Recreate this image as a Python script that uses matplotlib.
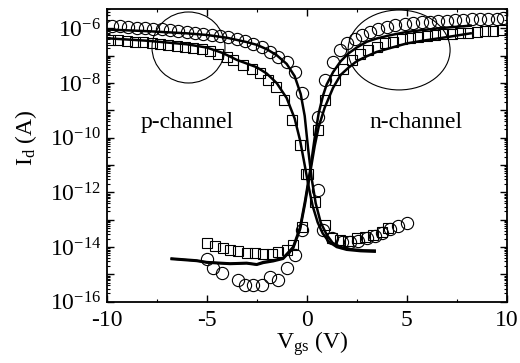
import matplotlib
matplotlib.use('Agg')
import matplotlib.pyplot as plt
from matplotlib.patches import Ellipse
from matplotlib.ticker import FixedLocator, LogLocator, FuncFormatter, MultipleLocator, NullFormatter
import numpy as np

plt.rcParams['font.family'] = ['Liberation Serif', 'DejaVu Serif']
plt.rcParams['mathtext.fontset'] = 'custom'
plt.rcParams['mathtext.rm'] = 'Liberation Serif'
plt.rcParams['mathtext.it'] = 'Liberation Serif:italic'
plt.rcParams['xtick.top'] = True
plt.rcParams['ytick.right'] = True
plt.rcParams['xtick.direction'] = 'in'
plt.rcParams['ytick.direction'] = 'in'

# p-channel, circles (V, log10 I)
p_circ_v = [-9.75, -9.33, -8.92, -8.5, -8.08, -7.67, -7.25, -6.83, -6.42, -6.0, -5.58, -5.17,
            -4.75, -4.33, -3.92, -3.5, -3.08, -2.67, -2.25, -1.83, -1.42, -1.0, -0.58, -0.25,
            0.57, 0.82, 1.27, 1.77, 2.17, 2.57, 3.02, 3.42, 3.77, 4.17, 4.57, 5.02]
p_circ_logi = [-5.92, -5.93, -5.95, -5.97, -5.99, -6.01, -6.04, -6.06, -6.09, -6.12, -6.15, -6.19,
               -6.23, -6.28, -6.32, -6.39, -6.47, -6.56, -6.68, -6.86, -7.04, -7.22, -7.59, -8.38,
               -11.92, -13.39, -13.68, -13.83, -13.83, -13.79, -13.68, -13.61, -13.5, -13.35, -13.24, -13.13]

# p-channel, squares
p_sq_v = [-9.83, -9.42, -9.0, -8.58, -8.17, -7.75, -7.33, -6.92, -6.5, -6.08, -5.67, -5.25,
          -4.83, -4.42, -4.0, -3.67, -3.17, -2.75, -2.33, -1.92, -1.53, -1.12, -0.75, -0.33,
          -0.03, 0.42, 0.92, 1.27, 1.67, 2.07, 2.52, 2.92, 3.32, 3.77, 4.07]
p_sq_logi = [-6.42, -6.44, -6.46, -6.48, -6.5, -6.53, -6.56, -6.6, -6.63, -6.67, -6.71, -6.76,
             -6.82, -6.92, -7.05, -7.16, -7.34, -7.5, -7.65, -7.89, -8.14, -8.63, -9.36, -10.27,
             -11.31, -12.35, -13.2, -13.68, -13.76, -13.79, -13.68, -13.65, -13.57, -13.46, -13.31]

# n-channel, circles
n_circ_v = [-5.0, -4.67, -4.25, -3.42, -3.08, -2.67, -2.25, -1.83, -1.42, -1.0, -0.58, -0.25,
            0.58, 0.92, 1.33, 1.67, 2.0, 2.42, 2.75, 3.17, 3.58, 4.0, 4.42, 4.92,
            5.33, 5.75, 6.17, 6.58, 7.0, 7.42, 7.83, 8.25, 8.67, 9.08, 9.5, 9.83]
n_circ_logi = [-14.42, -14.77, -14.96, -15.22, -15.4, -15.4, -15.4, -15.11, -15.22, -14.78, -14.3, -13.39,
               -9.24, -7.89, -7.22, -6.79, -6.55, -6.37, -6.25, -6.12, -6.03, -5.94, -5.88, -5.84,
               -5.81, -5.78, -5.76, -5.74, -5.72, -5.7, -5.69, -5.67, -5.66, -5.65, -5.64, -5.63]

# n-channel, squares
n_sq_v = [-5.0, -4.58, -4.17, -3.83, -3.42, -3.0, -2.58, -2.17, -1.75, -1.42, -1.0, -0.67,
          -0.25, 0.07, 0.58, 0.92, 1.42, 1.83, 2.25, 2.67, 3.08, 3.5, 3.92, 4.33,
          4.75, 5.17, 5.58, 6.0, 6.42, 6.83, 7.25, 7.67, 8.08, 8.5, 8.92, 9.33, 9.75]
n_sq_logi = [-13.85, -13.97, -14.05, -14.12, -14.16, -14.22, -14.23, -14.27, -14.25, -14.2, -14.1, -13.94,
             -13.27, -11.31, -9.7, -8.63, -7.89, -7.47, -7.16, -6.92, -6.79, -6.67, -6.55, -6.49,
             -6.4, -6.35, -6.31, -6.28, -6.25, -6.22, -6.2, -6.17, -6.15, -6.13, -6.11, -6.09, -6.07]

# fitted curves
p_fit1_v = [-10, -8, -6, -5, -4, -3, -2.5, -2, -1.5, -1.0, -0.6, -0.3, -0.1, 0.07, 0.25, 0.45,
            0.7, 1.0, 1.3, 1.7, 2.2, 2.8, 3.4]
p_fit1_logi = [-6.04, -6.1, -6.18, -6.24, -6.34, -6.5, -6.6, -6.76, -6.98, -7.3, -7.75, -8.4, -9.2,
               -10.4, -11.5, -12.4, -13.1, -13.55, -13.85, -14.0, -14.08, -14.12, -14.13]
p_fit2_v = [-10, -8, -6, -5, -4.2, -3.5, -2.5, -2, -1.5, -1.0, -0.6, -0.33, -0.1, 0.1, 0.3, 0.55,
            0.8, 1.1, 1.5, 2.0, 2.7, 3.4]
p_fit2_logi = [-6.36, -6.45, -6.58, -6.7, -6.9, -7.15, -7.42, -7.65, -8.0, -8.55, -9.3, -10.1,
               -11.0, -11.8, -12.5, -13.1, -13.5, -13.8, -14.0, -14.1, -14.15, -14.17]
n_fit1_v = [-6.75, -5.5, -5.0, -3.83, -3.0, -2.5, -2.17, -1.68, -1.18, -0.68, -0.33, -0.08, 0.17,
            0.4, 0.6, 0.82, 1.0, 1.32, 1.7, 2.08, 2.5, 3.0, 3.5, 4.17, 5.0, 5.8, 7.0, 8.2]
n_fit1_logi = [-14.42, -14.49, -14.55, -14.6, -14.58, -14.63, -14.55, -14.49, -14.4, -14.0, -13.28,
               -12.3, -11.2, -10.0, -9.1, -8.45, -8.05, -7.6, -7.2, -6.92, -6.7, -6.49, -6.37,
               -6.25, -6.13, -6.06, -5.97, -5.9]
n_fit2_v = [-6.75, -5.5, -5.0, -3.83, -3.0, -2.5, -2.17, -1.68, -1.18, -0.68, -0.33, -0.08, 0.17,
            0.4, 0.6, 0.9, 1.32, 1.7, 2.07, 2.5, 3.0, 3.5, 4.17, 5.0, 5.8, 7.0, 8.2]
n_fit2_logi = [-14.44, -14.51, -14.57, -14.62, -14.6, -14.65, -14.58, -14.52, -14.43, -14.05, -13.35,
               -12.4, -11.3, -10.3, -9.6, -8.9, -8.17, -7.7, -7.45, -7.2, -7.02, -6.86, -6.72,
               -6.55, -6.45, -6.32, -6.18]

y_exponents = [-16, -15, -14, -13, -12, -11, -10, -9, -8, -7, -6]

fig = plt.figure(figsize=(5.2, 3.63), dpi=100)
ax = fig.add_axes([0.2052, 0.1689, 0.7692, 0.8063])

mk = dict(linestyle='none', mfc='none', mec='k', mew=0.8)
ax.plot(p_circ_v, 10.0 ** np.array(p_circ_logi), marker='o', ms=8.8, **mk)
ax.plot(n_circ_v, 10.0 ** np.array(n_circ_logi), marker='o', ms=8.8, **mk)
ax.plot(p_sq_v, 10.0 ** np.array(p_sq_logi), marker='s', ms=7.0, **mk)
ax.plot(n_sq_v, 10.0 ** np.array(n_sq_logi), marker='s', ms=7.0, **mk)

for fv, fl in [(p_fit1_v, p_fit1_logi), (p_fit2_v, p_fit2_logi),
               (n_fit1_v, n_fit1_logi), (n_fit2_v, n_fit2_logi)]:
    ax.plot(fv, 10.0 ** np.array(fl), color='k', lw=1.8, solid_joinstyle='round')

ax.set_yscale('log')
ax.set_xlim(-10, 10)
ax.set_ylim(1e-16, 10 ** -5.29)

ax.xaxis.set_major_locator(MultipleLocator(5))
ax.xaxis.set_minor_locator(MultipleLocator(2.5))
ax.xaxis.set_major_formatter(FuncFormatter(lambda v, p: '%d' % v))
ax.yaxis.set_major_locator(FixedLocator([10.0 ** e for e in y_exponents]))
ax.yaxis.set_major_formatter(FuncFormatter(
    lambda v, p: r'$\mathregular{10^{%d}}$' % round(np.log10(v)) if round(np.log10(v)) % 2 == 0 else ''))
ax.yaxis.set_minor_locator(LogLocator(base=10, subs=np.arange(2, 10), numticks=30))
ax.yaxis.set_minor_formatter(NullFormatter())

ax.tick_params(which='major', length=5, width=1.0, labelsize=17)
ax.tick_params(axis='x', which='major', pad=6)
ax.tick_params(axis='y', which='major', pad=4)
ax.tick_params(which='minor', length=2.5, width=0.8)
for s in ax.spines.values():
    s.set_linewidth(1.3)

ax.set_xlabel(r'$\mathregular{V_{gs}\ (V)}$', fontsize=17)
ax.xaxis.set_label_coords(0.514, -0.095)
ax.xaxis.label.set_va('top')
ax.set_ylabel(r'$\mathregular{I_{d}\ (A)}$', fontsize=17)
ax.yaxis.set_label_coords(-0.17, 0.56)

ax.text(0.202, 0.611, 'p-channel', transform=ax.transAxes, fontsize=17, ha='center', va='center')
ax.text(0.773, 0.611, 'n-channel', transform=ax.transAxes, fontsize=17, ha='center', va='center')

ax.add_patch(Ellipse((0.2045, 0.8685), 0.1825, 0.2426, transform=ax.transAxes,
                     fill=False, ec='k', lw=0.8))
ax.add_patch(Ellipse((0.731, 0.860), 0.255, 0.273, transform=ax.transAxes,
                     fill=False, ec='k', lw=0.8))

fig.savefig('out.png', dpi=100)
